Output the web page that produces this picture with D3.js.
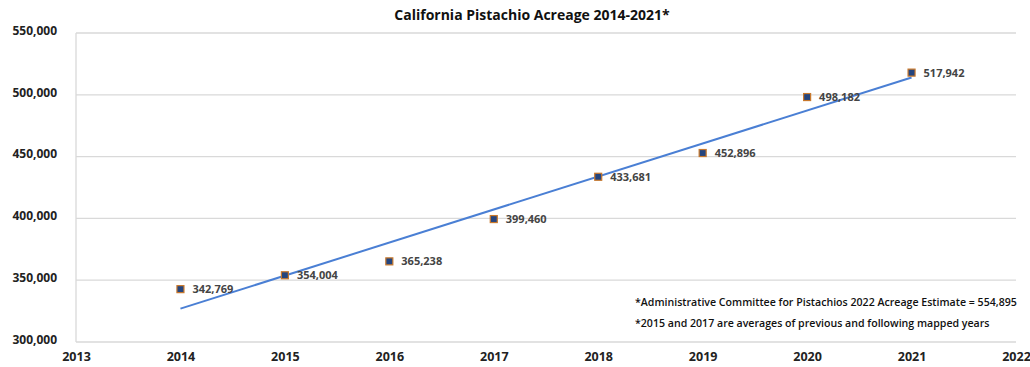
<!DOCTYPE html>
<html>
<head>
<meta charset="utf-8">
<script src="https://cdn.jsdelivr.net/npm/d3@7"></script>
<style>
  html, body { margin: 0; padding: 0; background: #fff; }
  svg { display: block; }
  text { font-family: "Open Sans", "Liberation Sans", sans-serif; }
</style>
</head>
<body>
<svg id="chart" width="1030" height="367"></svg>
<script>
// Mapped pistachio acreage by year
const years = [2014, 2015, 2016, 2017, 2018, 2019, 2020, 2021];
const acreage = [342769, 354004, 365238, 399460, 433681, 452896, 498182, 517942];

const xTicks = [2013, 2014, 2015, 2016, 2017, 2018, 2019, 2020, 2021, 2022];
const yTicks = [300000, 350000, 400000, 450000, 500000, 550000];

const titleText = "California Pistachio Acreage 2014-2021*";
const notes = [
  "*Administrative Committee for Pistachios 2022 Acreage Estimate = 554,895",
  "*2015 and 2017 are averages of previous and following mapped years"
];

const svg = d3.select("#chart");
const margin = { left: 76, right: 14, top: 33, bottom: 25 };
const W = 1030, H = 367;

const x = d3.scaleLinear().domain([2013, 2022]).range([margin.left, W - margin.right]);
const y = d3.scaleLinear().domain([300000, 550000]).range([H - margin.bottom, margin.top]);
const fmt = d3.format(",");

// Horizontal gridlines
svg.append("g").selectAll("line").data(yTicks).join("line")
  .attr("x1", x(2013)).attr("x2", x(2022))
  .attr("y1", d => y(d)).attr("y2", d => y(d))
  .attr("stroke", "#d9d9d9").attr("stroke-width", 1.3);

// Left axis line
svg.append("line")
  .attr("x1", x(2013)).attr("x2", x(2013))
  .attr("y1", y(550000)).attr("y2", y(300000))
  .attr("stroke", "#d9d9d9").attr("stroke-width", 1.3);

// Y axis labels
const yAxis = d3.axisLeft(y).tickValues(yTicks).tickFormat(fmt).tickSize(0).tickPadding(19);
const gy = svg.append("g").attr("transform", `translate(${x(2013)},0)`).call(yAxis);
gy.select(".domain").remove();
gy.selectAll("text")
  .attr("font-family", "\"Open Sans\", sans-serif")
  .attr("font-size", 12).attr("font-weight", "bold").attr("fill", "#222")
  .attr("dy", "0.1em");

// X axis labels
const xAxis = d3.axisBottom(x).tickValues(xTicks).tickFormat(d3.format("d")).tickSize(0).tickPadding(10);
const gx = svg.append("g").attr("transform", `translate(0,${y(300000)})`).call(xAxis);
gx.select(".domain").remove();
gx.selectAll("text")
  .attr("font-family", "\"Open Sans\", sans-serif")
  .attr("font-size", 12.5).attr("font-weight", "bold").attr("fill", "#222");

// Linear trendline (least squares fit over the mapped years)
const mx = d3.mean(years), my = d3.mean(acreage);
const slope = d3.sum(years, (d, i) => (d - mx) * (acreage[i] - my)) / d3.sum(years, d => (d - mx) ** 2);
const fit = d => my + slope * (d - mx);
const trend = [years[0], years[years.length - 1]].map(d => [d, fit(d)]);
svg.append("path")
  .datum(trend)
  .attr("d", d3.line().x(d => x(d[0])).y(d => y(d[1])))
  .attr("fill", "none").attr("stroke", "#4a7fd4").attr("stroke-width", 2);

// Markers
const pts = years.map((d, i) => ({ year: d, value: acreage[i] }));
svg.append("g").selectAll("rect").data(pts).join("rect")
  .attr("x", d => x(d.year) - 3.5).attr("y", d => y(d.value) - 3.5)
  .attr("width", 7).attr("height", 7)
  .attr("fill", "#24457f").attr("stroke", "#c8782c").attr("stroke-width", 1.2);

// Value labels
svg.append("g").selectAll("text").data(pts).join("text")
  .attr("x", d => x(d.year) + 12).attr("y", d => y(d.value) + 4)
  .attr("font-size", 11).attr("font-weight", "bold").attr("fill", "#444")
  .text(d => fmt(d.value));

// Title
svg.append("text")
  .attr("x", 532).attr("y", 20).attr("text-anchor", "middle")
  .attr("font-size", 14).attr("font-weight", "bold").attr("fill", "#111")
  .text(titleText);

// Footnotes
svg.append("g").selectAll("text").data(notes).join("text")
  .attr("x", 635).attr("y", (d, i) => 306 + i * 21)
  .attr("font-size", 10.6).attr("font-weight", "600").attr("fill", "#111")
  .text(d => d);
</script>
</body>
</html>
